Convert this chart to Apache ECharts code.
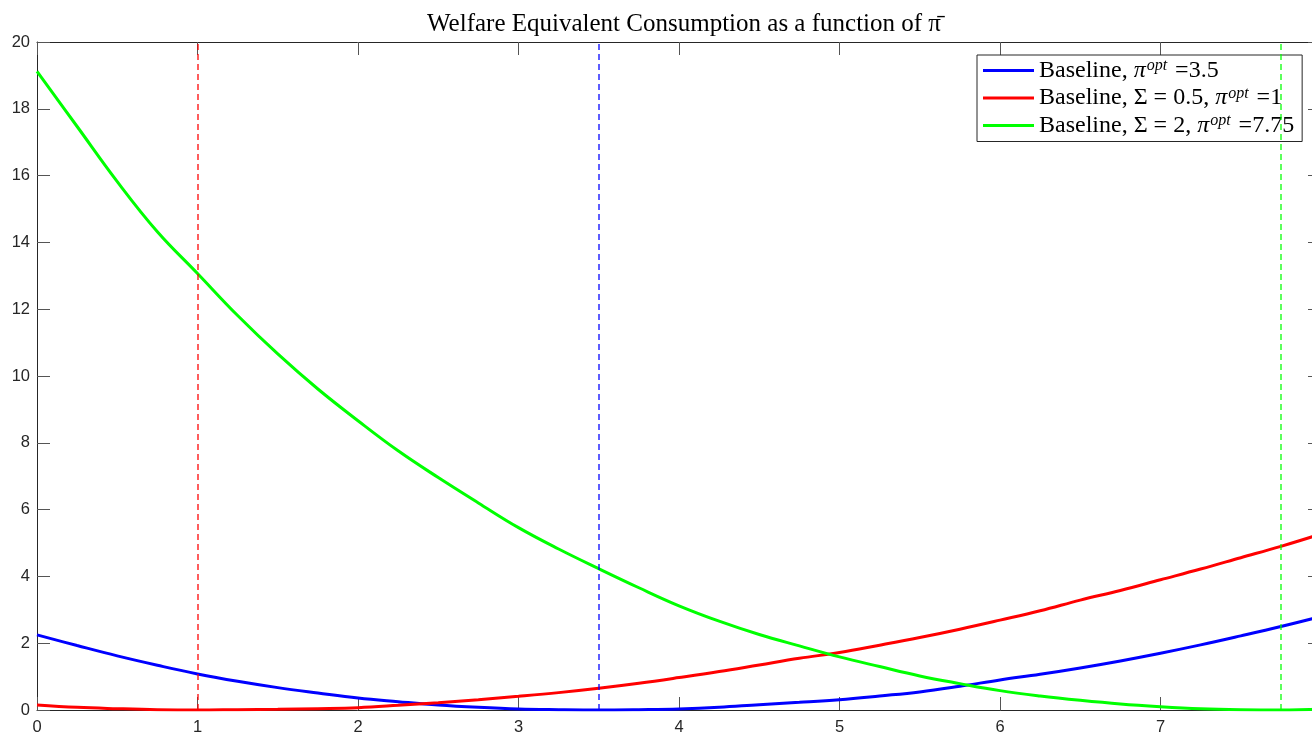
<!DOCTYPE html>
<html>
<head>
<meta charset="utf-8">
<script src="https://cdn.jsdelivr.net/npm/echarts@6/dist/echarts.min.js"></script>
<style>
  html, body { margin: 0; padding: 0; overflow: hidden; background: #fff; width: 1312px; height: 736px; }
  #chart { width: 1330px; height: 736px; }
</style>
</head>
<body>
<div id="chart"></div>
<script>
// Inflation target grid (pi bar)
const piBar = [0, 0.25, 0.5, 0.75, 1, 1.25, 1.5, 1.75, 2, 2.25, 2.5, 2.75, 3, 3.25, 3.5, 3.75,
               4, 4.25, 4.5, 4.75, 5, 5.25, 5.5, 5.75, 6, 6.25, 6.5, 6.75, 7, 7.25, 7.5, 7.75, 8];

// Welfare-equivalent consumption loss for each calibration
const baseline = [2.25, 1.93, 1.62, 1.34, 1.08, 0.86, 0.67, 0.51, 0.36, 0.25, 0.15, 0.08, 0.03, 0.01, 0, 0.01,
                  0.03, 0.08, 0.16, 0.23, 0.31, 0.42, 0.54, 0.71, 0.9, 1.07, 1.26, 1.47, 1.7, 1.95, 2.22, 2.5, 2.8];
const sigmaLow = [0.15, 0.08, 0.04, 0.01, 0, 0.01, 0.02, 0.04, 0.07, 0.14, 0.22, 0.31, 0.41, 0.52, 0.65, 0.8,
                  0.97, 1.15, 1.35, 1.55, 1.72, 1.94, 2.17, 2.42, 2.69, 2.97, 3.29, 3.58, 3.9, 4.22, 4.56, 4.9, 5.27];
const sigmaHigh = [19.12, 17.47, 15.82, 14.32, 13.07, 11.81, 10.66, 9.61, 8.66, 7.76, 6.96, 6.2, 5.46, 4.82, 4.23, 3.66,
                   3.12, 2.66, 2.26, 1.92, 1.59, 1.3, 1.02, 0.79, 0.58, 0.42, 0.29, 0.18, 0.1, 0.04, 0.01, 0, 0.02];

// Legend prefixes, optimal targets and colours
const prefixes = ['Baseline', 'Baseline, Σ = 0.5', 'Baseline, Σ = 2'];
const piOpt = [3.5, 1, 7.75];
const colors = ['#0000ff', '#ff0000', '#00ff00'];
const curves = [baseline, sigmaLow, sigmaHigh];

const xTicks = { min: 0, max: 8, interval: 1 };
const yTicks = { min: 0, max: 20, interval: 2 };

const serif = 'Liberation Serif';
const sans = 'Liberation Sans';
const axisColor = '#262626';

const names = prefixes.map((p, i) => p + ', π^opt =' + piOpt[i]);

const series = curves.map((vals, i) => ({
  name: names[i],
  type: 'line',
  data: piBar.map((x, k) => [x, vals[k]]),
  symbol: 'none',
  smooth: 0.4,
  color: colors[i],
  lineStyle: { color: colors[i], width: 3 },
  z: 3,
  markLine: {
    silent: true,
    symbol: 'none',
    label: { show: false },
    lineStyle: { color: colors[i], width: 1.5, type: [6, 4], opacity: 0.85 },
    data: [{ xAxis: piOpt[i] }],
    z: 4
  }
}));

function axisBase(pos, range, showLabel) {
  return {
    type: 'value',
    position: pos,
    min: range.min, max: range.max, interval: range.interval,
    axisLine: { show: true, onZero: false, lineStyle: { color: axisColor, width: 1 } },
    axisTick: { show: true, inside: true, length: 13, lineStyle: { color: '#555', width: 1 } },
    splitLine: { show: false },
    axisLabel: { show: showLabel, color: axisColor, fontFamily: sans, fontSize: 16.5 }
  };
}

const xBottom = axisBase('bottom', xTicks, true);
xBottom.axisLabel.margin = 9;
const xTop = axisBase('top', xTicks, false);
const yLeft = axisBase('left', yTicks, true);
yLeft.axisLabel.margin = 7;
const yRight = axisBase('right', yTicks, false);

const chart = echarts.init(document.getElementById('chart'), null, { renderer: 'canvas' });
chart.setOption({
  animation: false,
  backgroundColor: '#fff',
  title: {
    text: 'Welfare Equivalent Consumption as a function of π\u0304',
    left: 679, top: 7, textAlign: 'center',
    textStyle: { fontFamily: serif, fontSize: 25, fontWeight: 'normal', color: '#000' }
  },
  grid: { left: 37, right: 9, top: 42, bottom: 26, containLabel: false, outerBoundsMode: 'none' },
  xAxis: [xBottom, xTop],
  yAxis: [yLeft, yRight],
  legend: {
    orient: 'vertical',
    left: 977, top: 55,
    padding: [3, 8, 4, 6],
    itemGap: 3,
    itemWidth: 51, itemHeight: 3,
    icon: 'rect',
    backgroundColor: '#fff',
    borderColor: axisColor, borderWidth: 1,
    data: names,
    formatter: function (name) {
      const i = names.indexOf(name);
      return '{t|' + prefixes[i] + ', }{i|π}{s|opt}{t| =' + piOpt[i] + '}';
    },
    textStyle: {
      rich: {
        t: { fontFamily: serif, fontSize: 24, color: '#000', lineHeight: 25, verticalAlign: 'middle' },
        i: { fontFamily: serif, fontSize: 24, fontStyle: 'italic', color: '#000', lineHeight: 25, verticalAlign: 'middle', padding: [0, 1, 0, 0] },
        s: { fontFamily: serif, fontSize: 16, fontStyle: 'italic', color: '#000', lineHeight: 25, verticalAlign: 'top', padding: [0, 2, 0, 0] }
      }
    }
  },
  series: series
});
</script>
</body>
</html>
